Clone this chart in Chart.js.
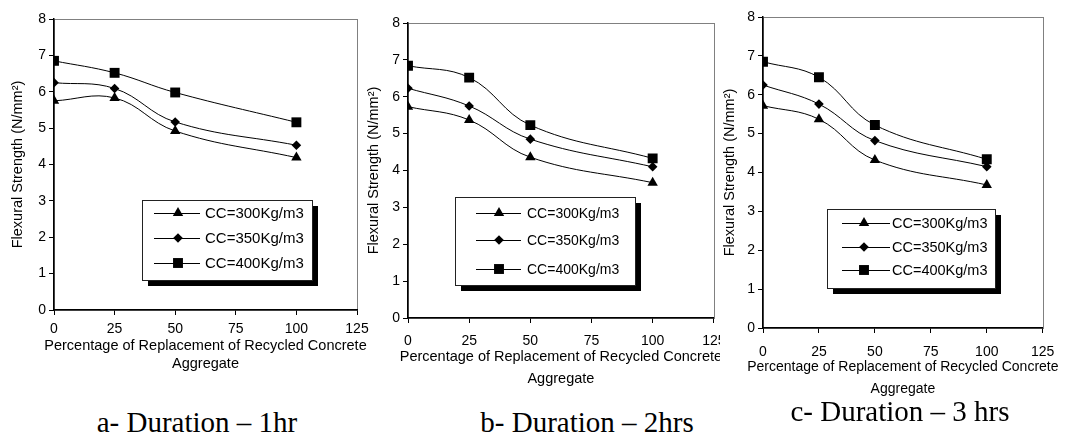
<!DOCTYPE html>
<html><head><meta charset="utf-8">
<script src="https://cdn.jsdelivr.net/npm/chart.js@4"></script>
<style>
html,body{margin:0;padding:0;background:#fff;width:1065px;height:434px;overflow:hidden;position:relative;}
canvas{position:absolute;top:0;}
.cap{position:absolute;font-family:"Liberation Serif","Times New Roman",serif;font-size:29px;line-height:1;color:#000;white-space:nowrap;transform:translate(-50%,-50%);}
</style></head><body>
<canvas id="ca" width="375" height="373" style="left:0px"></canvas>
<canvas id="cb" width="380" height="390" style="left:355px"></canvas>
<canvas id="cc" width="345" height="400" style="left:720px;background:#fff"></canvas>
<div class="cap" id="capA" style="left:197px;top:422px"></div>
<div class="cap" id="capB" style="left:587px;top:422px"></div>
<div class="cap" id="capC" style="left:900px;top:411px"></div>
<script>
// ---- data ----
const xPercent = [0, 25, 50, 100];
const seriesNames = ['CC=300Kg/m3', 'CC=350Kg/m3', 'CC=400Kg/m3'];
const hr1_cc300 = [5.75, 5.83, 4.92, 4.19];
const hr1_cc350 = [6.25, 6.09, 5.17, 4.53];
const hr1_cc400 = [6.85, 6.52, 5.98, 5.16];
const hr2_cc300 = [5.73, 5.37, 4.36, 3.67];
const hr2_cc350 = [6.23, 5.75, 4.85, 4.10];
const hr2_cc400 = [6.84, 6.52, 5.23, 4.33];
const hr3_cc300 = [5.72, 5.37, 4.32, 3.68];
const hr3_cc350 = [6.25, 5.76, 4.82, 4.15];
const hr3_cc400 = [6.85, 6.45, 5.22, 4.34];
const xMin = 0, xMax = 125, xStep = 25;
const yMin = 0, yMax = 8, yStep = 1;
const captions = ['a- Duration \u2013 1hr', 'b- Duration \u2013 2hrs', 'c- Duration \u2013 3 hrs'];
const yTitle = 'Flexural Strength (N/mm\u00B2)';
const xTitle = ['Percentage of Replacement of Recycled Concrete', 'Aggregate'];

document.getElementById('capA').textContent = captions[0];
document.getElementById('capB').textContent = captions[1];
document.getElementById('capC').textContent = captions[2];

const FONT = '"Liberation Sans", Arial, sans-serif';
const markerStyles = [
  {pointStyle: 'triangle', radius: 6},
  {pointStyle: 'rectRot', radius: 4.8},
  {pointStyle: 'rect', radius: 7}
];

const decoPlugin = {
  id: 'deco',
  beforeDraw(chart, args, opts) {
    const ctx = chart.ctx, a = chart.chartArea;
    ctx.save();
    ctx.strokeStyle = '#808080';
    ctx.lineWidth = 1;
    ctx.strokeRect(Math.round(a.left) + 0.5, Math.round(a.top) + 0.5,
      Math.round(a.right - a.left), Math.round(a.bottom - a.top));
    ctx.restore();
  },
  afterDraw(chart, args, opts) {
    const ctx = chart.ctx, a = chart.chartArea;
    const ox = opts.canvasLeft;
    ctx.save();
    // x-axis title (not squeezed to the axis width)
    ctx.fillStyle = '#000';
    ctx.textAlign = 'center';
    ctx.textBaseline = 'middle';
    ctx.font = opts.xTitleSize + 'px ' + FONT;
    const cx = (a.left + a.right) / 2;
    xTitle.forEach((t, i) => ctx.fillText(t, cx, opts.xTitleRows[i]));
    // legend
    const L = opts.legend;
    ctx.fillStyle = '#000';
    ctx.fillRect(L.x - ox + 6, L.y + 6, L.w, L.h);
    ctx.fillStyle = '#fff';
    ctx.fillRect(L.x - ox, L.y, L.w, L.h);
    ctx.strokeStyle = '#222';
    ctx.lineWidth = 1;
    ctx.strokeRect(L.x - ox + 0.5, L.y + 0.5, L.w, L.h);
    ctx.font = L.size + 'px ' + FONT;
    ctx.textBaseline = 'middle';
    ctx.textAlign = 'left';
    seriesNames.forEach((name, i) => {
      const y = L.rows[i];
      ctx.strokeStyle = '#000';
      ctx.lineWidth = 1;
      ctx.beginPath();
      ctx.moveTo(L.line[0] - ox, y + 0.5);
      ctx.lineTo(L.line[1] - ox, y + 0.5);
      ctx.stroke();
      ctx.fillStyle = '#000';
      Chart.helpers.drawPoint(ctx, {pointStyle: markerStyles[i].pointStyle, radius: markerStyles[i].radius, rotation: 0, borderWidth: 0}, L.marker - ox, y);
      ctx.fillStyle = '#000';
      ctx.fillText(name, L.text - ox, y + 1);
    });
    ctx.restore();
  }
};

function makePanel(id, g, s300, s350, s400) {
  const mk = (vals, i) => ({
    label: seriesNames[i],
    data: xPercent.map((x, k) => ({x: x, y: vals[k]})),
    showLine: true,
    borderColor: '#000',
    borderWidth: 1,
    tension: 0.4,
    pointStyle: markerStyles[i].pointStyle,
    pointRadius: markerStyles[i].radius,
    pointBackgroundColor: '#000',
    pointBorderColor: '#000',
    pointBorderWidth: 0,
    fill: false
  });
  return new Chart(document.getElementById(id), {
    type: 'scatter',
    data: {datasets: [mk(s300, 0), mk(s350, 1), mk(s400, 2)]},
    plugins: [decoPlugin],
    options: {
      responsive: false,
      animation: false,
      devicePixelRatio: 1,
      layout: {padding: {left: 0, top: g.top, right: g.padRight, bottom: 0}},
      plugins: {
        legend: {display: false},
        tooltip: {enabled: false},
        deco: {legend: g.legend, canvasLeft: g.left, xTitleRows: g.xTitleRows, xTitleSize: g.xTitleSize}
      },
      scales: {
        x: {
          type: 'linear', min: xMin, max: xMax,
          ticks: {stepSize: xStep, color: '#000', font: {family: FONT, size: 14}, padding: g.xTickPad, maxRotation: 0},
          grid: {display: true, drawOnChartArea: false, drawTicks: true, tickLength: 5, color: '#000', lineWidth: 1},
          border: {display: true, color: '#000', width: 1.5},
          title: {display: false},
          afterFit: (sc) => { sc.height = g.xHeight; }
        },
        y: {
          type: 'linear', min: yMin, max: yMax,
          ticks: {stepSize: yStep, color: '#000', font: {family: FONT, size: 14}, padding: 3},
          grid: {display: true, drawOnChartArea: false, drawTicks: true, tickLength: 5, color: '#000', lineWidth: 1},
          border: {display: true, color: '#000', width: 1.5},
          title: {display: true, text: yTitle, color: '#000', font: {family: FONT, size: g.yTitleSize, lineHeight: 1.15}, padding: {top: g.yTitlePad, bottom: 0}},
          afterFit: (sc) => { sc.width = g.yWidth; }
        }
      }
    }
  });
}

makePanel('ca', {
  left: 0, top: 19, padRight: 18, yWidth: 54, xHeight: 63, xTickPad: 6, yTitlePad: 10, yTitleSize: 14.5,
  xTitleRows: [346, 364], xTitleSize: 14.5,
  legend: {x: 142, y: 200, w: 170, h: 80, rows: [213, 238, 263], line: [154, 200], marker: 178, text: 205, size: 15}
}, hr1_cc300, hr1_cc350, hr1_cc400);

makePanel('cb', {
  left: 355, top: 23, padRight: 21, yWidth: 53, xHeight: 72, xTickPad: 9.5, yTitlePad: 11, yTitleSize: 14.5,
  xTitleRows: [357, 379], xTitleSize: 14.5,
  legend: {x: 455, y: 197, w: 180, h: 88, rows: [213, 240, 269], line: [476, 521], marker: 499, text: 527, size: 14}
}, hr2_cc300, hr2_cc350, hr2_cc400);

makePanel('cc', {
  left: 720, top: 17, padRight: 12, yWidth: 43, xHeight: 72, xTickPad: 10.6, yTitlePad: 2, yTitleSize: 14.5,
  xTitleRows: [367, 389], xTitleSize: 14,
  legend: {x: 827, y: 209, w: 168, h: 79, rows: [223, 247, 270], line: [842, 890], marker: 864, text: 892, size: 14.5}
}, hr3_cc300, hr3_cc350, hr3_cc400);
</script>
</body></html>
